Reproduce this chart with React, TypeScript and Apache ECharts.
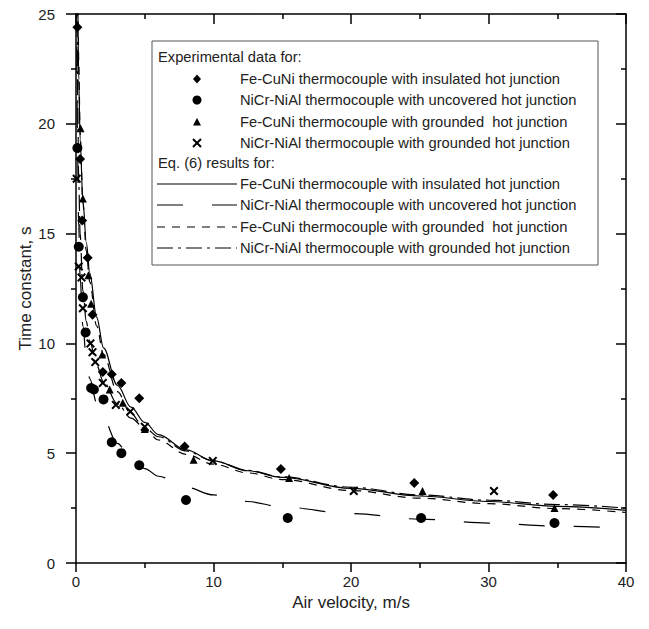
import React, { useEffect, useRef } from "react";
import * as echarts from "echarts";

// ---- Data ----
// Experimental data (x = air velocity m/s, y = time constant s)
const feCuNiInsulatedExp: number[][] = [
  [0.1, 24.4], [0.3, 18.4], [0.45, 15.6], [0.85, 13.9], [1.2, 11.3], [1.95, 8.7],
  [2.6, 8.6], [3.3, 8.2], [4.6, 7.5], [7.9, 5.3], [14.9, 4.28], [24.6, 3.64], [34.7, 3.1],
];
const niCrUncoveredExp: number[][] = [
  [0.1, 18.9], [0.2, 14.4], [0.5, 12.1], [0.7, 10.5], [1.1, 7.97], [1.3, 7.9], [2.0, 7.45],
  [2.6, 5.5], [3.3, 5.0], [4.6, 4.45], [8.0, 2.87], [15.4, 2.05], [25.1, 2.05], [34.8, 1.82],
];
const feCuNiGroundedExp: number[][] = [
  [0.33, 19.8], [0.5, 16.6], [0.9, 13.1], [1.1, 11.8], [1.9, 9.5], [2.45, 7.9],
  [3.4, 7.3], [5.0, 6.1], [8.55, 4.7], [15.5, 3.87], [25.2, 3.28], [34.8, 2.5],
];
const niCrGroundedExp: number[][] = [
  [0.05, 17.5], [0.2, 13.5], [0.4, 13.0], [0.5, 11.6], [1.05, 10.0], [1.2, 9.6], [1.4, 9.15],
  [1.95, 8.2], [2.9, 7.2], [3.95, 6.9], [5.0, 6.2], [9.95, 4.65], [20.2, 3.28], [30.4, 3.28],
];

// Eq. (6) curves
const feCuNiInsulatedEq: number[][] = [
  [0.13, 26], [0.2, 22], [0.3, 19.3], [0.5, 16.5], [0.75, 14.6], [1, 13.2], [1.5, 11.2],
  [2, 9.8], [3, 8.1], [4, 7.1], [5, 6.4], [6, 5.85], [8, 5.15], [10, 4.65], [12.5, 4.2],
  [15, 3.9], [20, 3.4], [25, 3.05], [30, 2.8], [35, 2.58], [40, 2.4],
];
const niCrUncoveredEq: number[][] = [
  [0.05, 26], [0.1, 19.5], [0.2, 15.3], [0.3, 13.0], [0.5, 10.8], [0.75, 9.3], [1, 8.4],
  [1.5, 7.3], [2, 6.55], [3, 5.45], [4, 4.75], [5, 4.3], [6, 3.95], [8, 3.45], [10, 3.1],
  [12.5, 2.8], [15, 2.55], [20, 2.25], [25, 2.0], [30, 1.82], [35, 1.68], [40, 1.58],
];
const feCuNiGroundedEq: number[][] = [
  [0.15, 26], [0.2, 22.8], [0.3, 19.6], [0.5, 16.4], [0.75, 14.2], [1, 12.8], [1.5, 10.8],
  [2, 9.5], [3, 7.8], [4, 6.8], [5, 6.1], [6, 5.6], [8, 4.95], [10, 4.5], [12.5, 4.1],
  [15, 3.8], [20, 3.3], [25, 2.95], [30, 2.7], [35, 2.48], [40, 2.3],
];
const niCrGroundedEq: number[][] = [
  [0.08, 26], [0.12, 21], [0.2, 17.3], [0.3, 15.0], [0.5, 12.4], [0.75, 11.0], [1, 10.1],
  [1.5, 9.0], [2, 8.25], [3, 7.25], [4, 6.6], [5, 6.15], [6, 5.75], [8, 5.1], [10, 4.65],
  [12.5, 4.22], [15, 3.92], [20, 3.45], [25, 3.1], [30, 2.86], [35, 2.66], [40, 2.5],
];

const xMin = 0, xMax = 40, xStep = 10;
const yMin = 0, yMax = 25, yStep = 5;

const expHeader = "Experimental data for:";
const eqHeader = "Eq. (6) results for:";
const expNames = [
  "Fe-CuNi thermocouple with insulated hot junction",
  "NiCr-NiAl thermocouple with uncovered hot junction",
  "Fe-CuNi thermocouple with grounded  hot junction",
  "NiCr-NiAl thermocouple with grounded hot junction",
];
const xTitle = "Air velocity, m/s";
const yTitle = "Time constant, s";

const FONT = '"Liberation Sans", Arial, sans-serif';
const INK = "#000";
const TXT = "#222";

const X_PATH =
  "path://M0,1.6L1.6,0L5,3.4L8.4,0L10,1.6L6.6,5L10,8.4L8.4,10L5,6.6L1.6,10L0,8.4L3.4,5Z";

const dashLong = [26, 29];
const dashShort = [8, 7];
const dashDot = [16, 5, 3, 5];

export default function App() {
  const ref = useRef<HTMLDivElement>(null);
  useEffect(() => {
    document.body.style.margin = "0";
    if (!ref.current) return;
    const chart = echarts.init(ref.current, undefined, { renderer: "svg" });

    const lx = 152, ly = 41, lw = 446, lh = 224;
    const symX = 197, textX = 240, headX = 158;
    const expRows = [79, 100, 122, 143];
    const eqRows = [184, 205, 227, 248];
    const lineX1 = 157, lineX2 = 237;
    const txt = (t: string, x: number, y: number) => ({
      type: "text",
      x, y,
      style: { text: t, fontSize: 14.7, fontFamily: FONT, fill: TXT, verticalAlign: "middle", align: "left" },
    });
    const lineDashes = [null, dashLong, dashShort, dashDot];

    const graphics: any[] = [
      { type: "rect", shape: { x: lx, y: ly, width: lw, height: lh }, style: { fill: "#fff", stroke: "#555", lineWidth: 1 } },
      txt(expHeader, headX, 57),
      txt(eqHeader, headX, 163),
      { type: "polygon", shape: { points: [[symX, expRows[0] - 4.5], [symX + 4, expRows[0]], [symX, expRows[0] + 4.5], [symX - 4, expRows[0]]] }, style: { fill: INK } },
      { type: "circle", shape: { cx: symX, cy: expRows[1], r: 4.5 }, style: { fill: INK } },
      { type: "polygon", shape: { points: [[symX, expRows[2] - 4], [symX + 4, expRows[2] + 3.5], [symX - 4, expRows[2] + 3.5]] }, style: { fill: INK } },
      { type: "line", shape: { x1: symX - 4, y1: expRows[3] - 4, x2: symX + 4, y2: expRows[3] + 4 }, style: { stroke: INK, lineWidth: 2 } },
      { type: "line", shape: { x1: symX + 4, y1: expRows[3] - 4, x2: symX - 4, y2: expRows[3] + 4 }, style: { stroke: INK, lineWidth: 2 } },
    ];
    expNames.forEach((n, i) => {
      graphics.push(txt(n, textX, expRows[i]));
      graphics.push(txt(n, textX, eqRows[i]));
      const st: any = { stroke: INK, lineWidth: 1.2 };
      if (lineDashes[i]) st.lineDash = lineDashes[i];
      graphics.push({ type: "line", shape: { x1: lineX1, y1: eqRows[i], x2: lineX2, y2: eqRows[i] }, style: st });
    });

    const axisCommon = {
      type: "value",
      axisLine: { show: true, onZero: false, lineStyle: { color: INK, width: 1.5 } },
      splitLine: { show: false },
      minorSplitLine: { show: false },
    };
    const tickStyle = { color: INK, width: 1.5 };

    const lineSeries = (data: number[][], dash: any) => ({
      type: "line",
      data,
      symbol: "none",
      smooth: 0.35,
      smoothMonotone: "x",
      clip: true,
      silent: true,
      lineStyle: { color: INK, width: 1.2, type: dash },
      z: 2,
    });
    const scatter = (data: number[][], symbol: string, size: number) => ({
      type: "scatter",
      data,
      symbol,
      symbolSize: size,
      silent: true,
      itemStyle: { color: INK, opacity: 1 },
      z: 3,
    });

    chart.setOption({
      animation: false,
      grid: { left: 76, right: 23, top: 14, bottom: 66, containLabel: false },
      xAxis: [
        {
          ...axisCommon,
          position: "bottom",
          min: xMin, max: xMax, interval: xStep,
          axisTick: { show: true, inside: false, length: 9, lineStyle: tickStyle },
          minorTick: { show: true, splitNumber: 2, length: 5, lineStyle: tickStyle },
          axisLabel: { color: TXT, fontSize: 15, fontFamily: FONT, margin: 11 },
          name: xTitle,
          nameLocation: "middle",
          nameGap: 31,
          nameMoveOverlap: false,
          nameTextStyle: { color: TXT, fontSize: 17, fontFamily: FONT },
        },
        {
          ...axisCommon,
          position: "top",
          min: xMin, max: xMax, interval: xStep,
          axisTick: { show: true, inside: true, length: 10, lineStyle: tickStyle },
          minorTick: { show: true, splitNumber: 2, length: 5, lineStyle: tickStyle },
          axisLabel: { show: false },
        },
      ],
      yAxis: [
        {
          ...axisCommon,
          position: "left",
          min: yMin, max: yMax, interval: yStep,
          axisTick: { show: true, inside: false, length: 10, lineStyle: tickStyle },
          minorTick: { show: true, splitNumber: 2, length: 5, lineStyle: tickStyle },
          axisLabel: { color: TXT, fontSize: 15, fontFamily: FONT, margin: 21 },
          name: yTitle,
          nameLocation: "middle",
          nameGap: 42,
          nameRotate: 90,
          nameMoveOverlap: false,
          nameTextStyle: { color: TXT, fontSize: 17, fontFamily: FONT },
        },
        {
          ...axisCommon,
          position: "right",
          min: yMin, max: yMax, interval: yStep,
          axisTick: { show: true, inside: true, length: 10, lineStyle: tickStyle },
          minorTick: { show: true, splitNumber: 2, length: 5, lineStyle: tickStyle },
          axisLabel: { show: false },
        },
      ],
      series: [
        lineSeries(feCuNiInsulatedEq, "solid"),
        lineSeries(niCrUncoveredEq, dashLong),
        lineSeries(feCuNiGroundedEq, dashShort),
        lineSeries(niCrGroundedEq, dashDot),
        scatter(feCuNiInsulatedExp, "diamond", 10),
        scatter(niCrUncoveredExp, "circle", 10),
        scatter(feCuNiGroundedExp, "triangle", 8),
        scatter(niCrGroundedExp, X_PATH, 9),
      ],
      graphic: graphics,
    });
    return () => chart.dispose();
  }, []);
  return (
    <div
      ref={ref}
      style={{ position: "fixed", left: 0, top: 0, width: 649, height: 629, background: "#fff" }}
    />
  );
}
